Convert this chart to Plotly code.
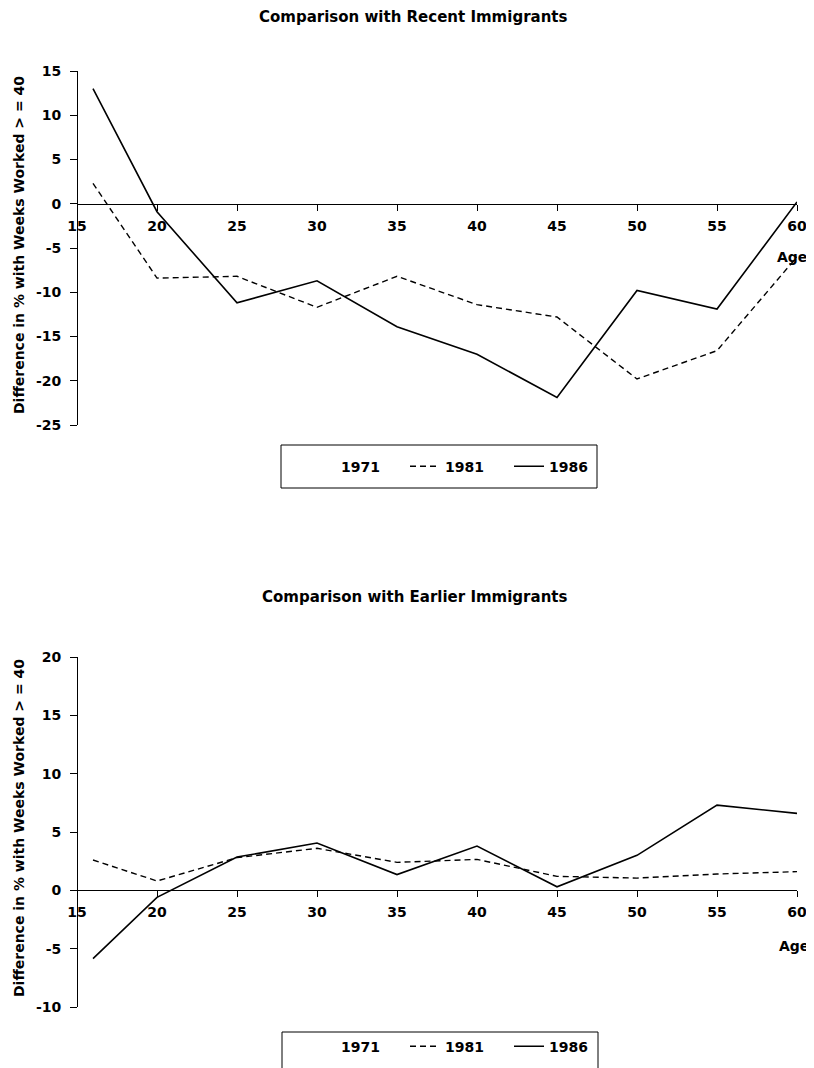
import plotly.graph_objects as go

# ---------------- data ----------------
ages = [16, 20, 25, 30, 35, 40, 45, 50, 55, 60]

recent_1971 = [None, None, None, None, None, None, None, None, None, None]
recent_1981 = [2.3, -8.4, -8.2, -11.7, -8.2, -11.4, -12.8, -19.8, -16.6, -6.0]
recent_1986 = [13.0, -0.9, -11.2, -8.7, -13.9, -17.0, -21.9, -9.8, -11.9, 0.2]

earlier_1971 = [None, None, None, None, None, None, None, None, None, None]
earlier_1981 = [2.6, 0.8, 2.8, 3.6, 2.4, 2.65, 1.2, 1.05, 1.4, 1.6]
earlier_1986 = [-5.85, -0.6, 2.85, 4.05, 1.35, 3.8, 0.3, 3.0, 7.3, 6.6]

x_ticks = [15, 20, 25, 30, 35, 40, 45, 50, 55, 60]
top_y_ticks = [15, 10, 5, 0, -5, -10, -15, -20, -25]
bottom_y_ticks = [20, 15, 10, 5, 0, -5, -10]

titles = ["Comparison with Recent Immigrants", "Comparison with Earlier Immigrants"]
y_title = "Difference in % with Weeks Worked > = 40"

# ---------------- layout geometry ----------------
OFF = 8  # page body margin
W, H = 814 - OFF, 1068 - OFF
ML, MR = 77 - OFF, 17
PW = W - ML - MR


def py(px):  # reference pixel from top -> paper y
    return 1 - (px - OFF) / H


def pxx(px):  # reference pixel from left -> paper x
    return (px - OFF - ML) / PW


def cx(px):  # reference pixel -> container x
    return (px - OFF) / W


FONT = "DejaVu Sans"
BLACK = "#000000"

top_dom = [py(425), py(71)]
bot_dom = [py(1007), py(657)]
top_rng = [-25, 15]
bot_rng = [-10, 20]


def zero_pos(dom, rng):
    return dom[0] + (0 - rng[0]) / (rng[1] - rng[0]) * (dom[1] - dom[0])


fig = go.Figure()

series = [
    (recent_1971, recent_1981, recent_1986, "x", "y", "legend"),
    (earlier_1971, earlier_1981, earlier_1986, "x2", "y2", "legend2"),
]
for s71, s81, s86, xa, ya, lg in series:
    fig.add_trace(go.Scatter(x=ages, y=s71, name="1971", mode="lines",
                             line=dict(color="rgba(0,0,0,0)", width=1.5),
                             xaxis=xa, yaxis=ya, legend=lg))
    fig.add_trace(go.Scatter(x=ages, y=s81, name="1981", mode="lines",
                             line=dict(color=BLACK, width=1.4, dash="6px,4px"),
                             xaxis=xa, yaxis=ya, legend=lg))
    fig.add_trace(go.Scatter(x=ages, y=s86, name="1986", mode="lines",
                             line=dict(color=BLACK, width=1.6),
                             xaxis=xa, yaxis=ya, legend=lg))

tickfont = dict(family=FONT, size=14, color=BLACK, weight="bold")

xcommon = dict(range=[15, 60], tickvals=x_ticks, ticktext=[str(v) for v in x_ticks],
               showline=True, linecolor=BLACK, linewidth=1, ticks="outside",
               ticklen=6, tickcolor=BLACK, tickwidth=1, showgrid=False,
               zeroline=False, tickfont=tickfont, domain=[0, 1], anchor="free",
               ticklabelstandoff=3, automargin=False)
# upper half of the crossing x tick marks
xinner = dict(range=[15, 60], tickvals=x_ticks, showline=False, ticks="inside",
              ticklen=5, tickcolor=BLACK, tickwidth=1, showgrid=False,
              zeroline=False, showticklabels=False, domain=[0, 1], anchor="free",
              automargin=False)
ycommon = dict(showline=True, linecolor=BLACK, linewidth=1, ticks="outside",
               ticklen=7, tickcolor=BLACK, tickwidth=1, showgrid=False,
               zeroline=False, tickfont=tickfont, anchor="free", position=0,
               ticklabelstandoff=6, automargin=False)

legfont = dict(family=FONT, size=14, color=BLACK, weight="bold")
legcommon = dict(orientation="h", xref="container", yref="container",
                 xanchor="left", yanchor="middle", bgcolor="rgba(0,0,0,0)",
                 borderwidth=0, font=legfont, entrywidth=59, entrywidthmode="pixels")
fig.update_layout(
    width=W, height=H,
    margin=dict(l=ML, r=MR, t=0, b=0, autoexpand=False),
    paper_bgcolor="white", plot_bgcolor="white",
    font=dict(family=FONT, color=BLACK),
    xaxis=dict(**xcommon, position=zero_pos(top_dom, top_rng)),
    xaxis2=dict(**xcommon, position=zero_pos(bot_dom, bot_rng)),
    xaxis3=dict(**xinner, overlaying="x", position=zero_pos(top_dom, top_rng)),
    xaxis4=dict(**xinner, overlaying="x2", position=zero_pos(bot_dom, bot_rng)),
    yaxis=dict(**ycommon, domain=top_dom, range=top_rng, tickvals=top_y_ticks,
               ticktext=[str(v) for v in top_y_ticks]),
    yaxis2=dict(**ycommon, domain=bot_dom, range=bot_rng, tickvals=bottom_y_ticks,
                ticktext=[str(v) for v in bottom_y_ticks]),
    legend=dict(**legcommon, x=cx(301), y=py(466.7)),
    legend2=dict(**legcommon, x=cx(301), y=py(1046.7)),
    showlegend=True,
)

ann_font = dict(family=FONT, size=15, color=BLACK, weight="bold")
yt_font = dict(family=FONT, size=14, color=BLACK, weight="bold")
age_font = dict(family=FONT, size=14, color=BLACK, weight="bold")
annotations = [
    dict(text=titles[0], x=pxx(413), y=py(17), xref="paper", yref="paper",
         showarrow=False, font=ann_font, xanchor="center", yanchor="middle"),
    dict(text=titles[1], x=pxx(414), y=py(597), xref="paper", yref="paper",
         showarrow=False, font=ann_font, xanchor="center", yanchor="middle"),
    dict(text=y_title, x=pxx(19), y=py(245), xref="paper", yref="paper", textangle=-90,
         showarrow=False, font=yt_font, xanchor="center", yanchor="middle"),
    dict(text=y_title, x=pxx(19), y=py(828), xref="paper", yref="paper", textangle=-90,
         showarrow=False, font=yt_font, xanchor="center", yanchor="middle"),
    dict(text="Age", x=60, y=0, xref="x", yref="y", xshift=-5, yshift=-53,
         showarrow=False, font=age_font, xanchor="center", yanchor="middle"),
    dict(text="Age", x=60, y=0, xref="x2", yref="y2", xshift=-3, yshift=-56,
         showarrow=False, font=age_font, xanchor="center", yanchor="middle"),
]
fig.update_layout(annotations=annotations)

shapes = [
    dict(type="rect", xref="paper", yref="paper", x0=pxx(281), x1=pxx(597),
         y0=py(488), y1=py(445), line=dict(color=BLACK, width=1)),
    dict(type="rect", xref="paper", yref="paper", x0=pxx(282), x1=pxx(598),
         y0=py(1076), y1=py(1032), line=dict(color=BLACK, width=1)),
]
fig.update_layout(shapes=shapes)

fig.write_html("out.html")
